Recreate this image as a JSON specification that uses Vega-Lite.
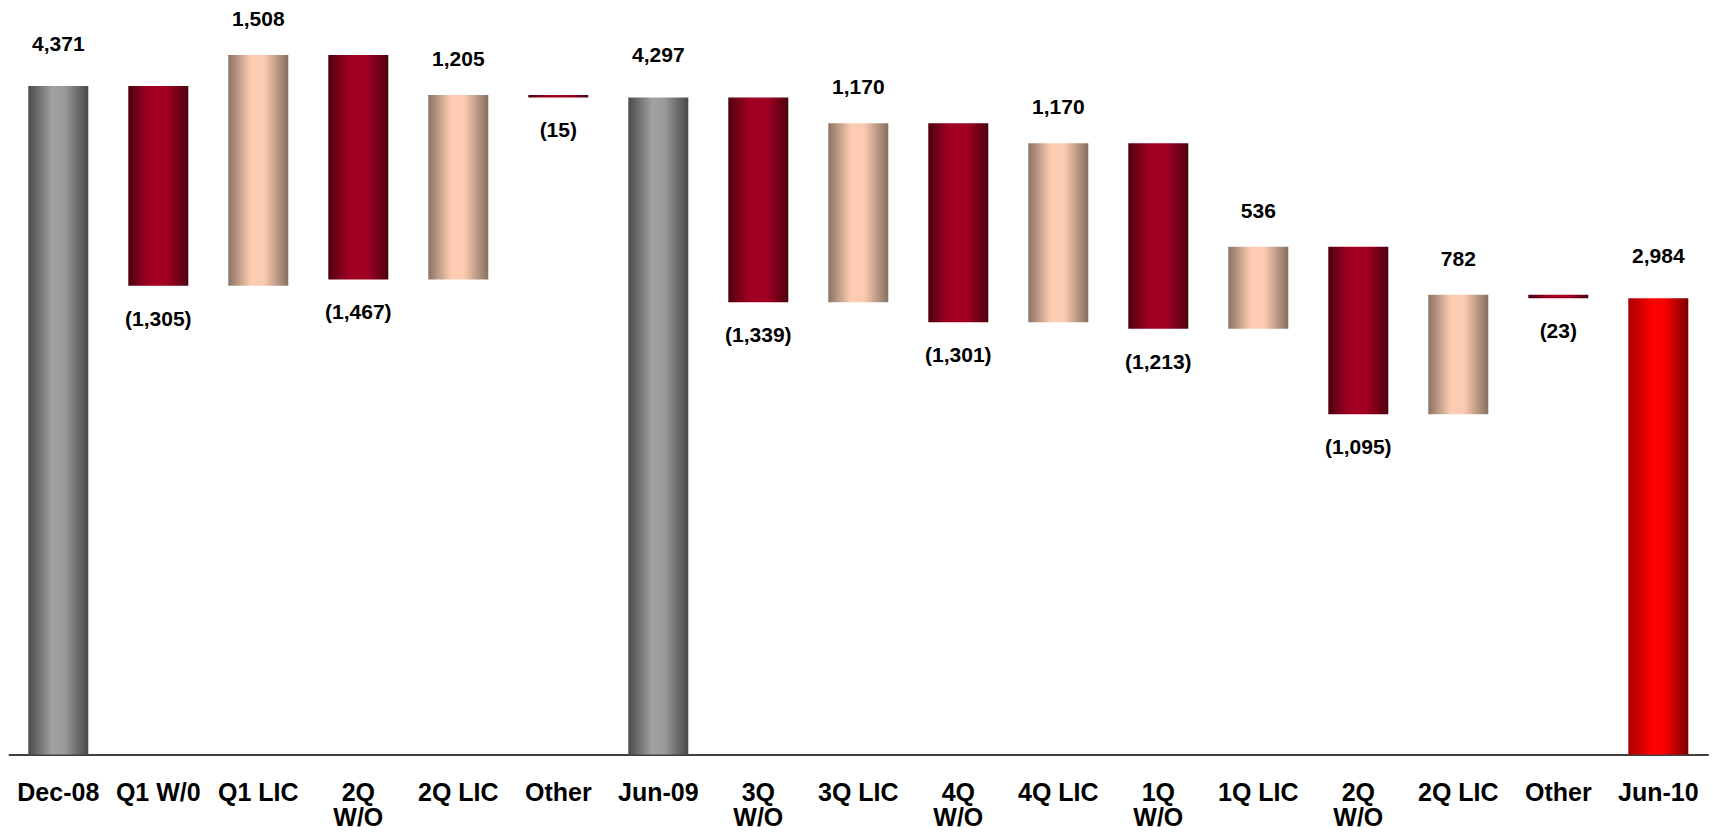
{
  "$schema": "https://vega.github.io/schema/vega-lite/v6.json",
  "width": 1700,
  "height": 734,
  "autosize": "none",
  "padding": {"left": 8.3, "top": 20.5, "right": 4.7, "bottom": 83.5},
  "background": "white",
  "config": {"view": {"stroke": null}},
  "data": {"values": [
    {"k": "01|Dec-08", "type": "total", "start": 0, "end": 4371, "text": "4,371"},
    {"k": "02|Q1 W/0", "type": "neg", "start": 4371, "end": 3066, "text": "(1,305)"},
    {"k": "03|Q1 LIC", "type": "pos", "start": 3066, "end": 4574, "text": "1,508"},
    {"k": "04|2Q|W/O", "type": "neg", "start": 4574, "end": 3107, "text": "(1,467)"},
    {"k": "05|2Q LIC", "type": "pos", "start": 3107, "end": 4312, "text": "1,205"},
    {"k": "06|Other", "type": "neg", "start": 4312, "end": 4297, "text": "(15)"},
    {"k": "07|Jun-09", "type": "total", "start": 0, "end": 4297, "text": "4,297"},
    {"k": "08|3Q|W/O", "type": "neg", "start": 4297, "end": 2958, "text": "(1,339)"},
    {"k": "09|3Q LIC", "type": "pos", "start": 2958, "end": 4128, "text": "1,170"},
    {"k": "10|4Q|W/O", "type": "neg", "start": 4128, "end": 2827, "text": "(1,301)"},
    {"k": "11|4Q LIC", "type": "pos", "start": 2827, "end": 3997, "text": "1,170"},
    {"k": "12|1Q|W/O", "type": "neg", "start": 3997, "end": 2784, "text": "(1,213)"},
    {"k": "13|1Q LIC", "type": "pos", "start": 2784, "end": 3320, "text": "536"},
    {"k": "14|2Q|W/O", "type": "neg", "start": 3320, "end": 2225, "text": "(1,095)"},
    {"k": "15|2Q LIC", "type": "pos", "start": 2225, "end": 3007, "text": "782"},
    {"k": "16|Other", "type": "neg", "start": 3007, "end": 2984, "text": "(23)"},
    {"k": "17|Jun-10", "type": "final", "start": 0, "end": 2984, "text": "2,984"}
  ]},
  "encoding": {
    "x": {
      "field": "k", "type": "nominal", "sort": "ascending",
      "scale": {"paddingInner": 0.4, "paddingOuter": 0.2},
      "axis": {
        "title": null,
        "labelExpr": "slice(split(datum.label, '|'), 1)",
        "labelAngle": 0,
        "labelFont": "Liberation Sans",
        "labelFontWeight": "bold",
        "labelFontSize": 25,
        "labelLineHeight": 25,
        "labelColor": "#000000",
        "labelPadding": 26,
        "labelOverlap": false,
        "labelBaseline": "top",
        "ticks": false,
        "tickSize": 0,
        "domainColor": "#000000",
        "domainWidth": 1.6,
        "grid": false
      }
    },
    "y": {
      "field": "start", "type": "quantitative",
      "scale": {"domain": [0, 4800], "nice": false, "zero": true},
      "axis": null
    }
  },
  "layer": [
    {
      "transform": [{"filter": "datum.type === 'total'"}],
      "mark": {"type": "bar", "color": {"gradient": "linear", "x1": 0, "x2": 1, "y1": 0, "y2": 0,
        "stops": [
          {"offset": 0, "color": "#4a4a4a"},
          {"offset": 0.4, "color": "#a2a2a2"},
          {"offset": 0.6, "color": "#9a9a9a"},
          {"offset": 1, "color": "#484848"}
        ]}},
      "encoding": {"y2": {"field": "end"}}
    },
    {
      "transform": [{"filter": "datum.type === 'neg'"}],
      "mark": {"type": "bar", "color": {"gradient": "linear", "x1": 0, "x2": 1, "y1": 0, "y2": 0,
        "stops": [
          {"offset": 0, "color": "#4e0010"},
          {"offset": 0.35, "color": "#a20022"},
          {"offset": 0.65, "color": "#a00021"},
          {"offset": 1, "color": "#4a000f"}
        ]}},
      "encoding": {"y2": {"field": "end"}}
    },
    {
      "transform": [{"filter": "datum.type === 'pos'"}],
      "mark": {"type": "bar", "color": {"gradient": "linear", "x1": 0, "x2": 1, "y1": 0, "y2": 0,
        "stops": [
          {"offset": 0, "color": "#8a7262"},
          {"offset": 0.38, "color": "#fdcdb3"},
          {"offset": 0.6, "color": "#fbcab0"},
          {"offset": 1, "color": "#85705f"}
        ]}},
      "encoding": {"y2": {"field": "end"}}
    },
    {
      "transform": [{"filter": "datum.type === 'final'"}],
      "mark": {"type": "bar", "color": {"gradient": "linear", "x1": 0, "x2": 1, "y1": 0, "y2": 0,
        "stops": [
          {"offset": 0, "color": "#a80000"},
          {"offset": 0.4, "color": "#ff0000"},
          {"offset": 0.6, "color": "#fa0000"},
          {"offset": 1, "color": "#7a0000"}
        ]}},
      "encoding": {"y2": {"field": "end"}}
    },
    {
      "transform": [{"filter": "datum.type === 'total' || datum.type === 'final'"}],
      "mark": {"type": "text", "font": "Liberation Sans", "fontWeight": "bold", "fontSize": 21, "color": "#000000", "baseline": "alphabetic", "dy": -35},
      "encoding": {"y": {"field": "end", "type": "quantitative"}, "text": {"field": "text"}}
    },
    {
      "transform": [{"filter": "datum.type === 'pos'"}],
      "mark": {"type": "text", "font": "Liberation Sans", "fontWeight": "bold", "fontSize": 21, "color": "#000000", "baseline": "alphabetic", "dy": -29},
      "encoding": {"y": {"field": "end", "type": "quantitative"}, "text": {"field": "text"}}
    },
    {
      "transform": [{"filter": "datum.type === 'neg'"}],
      "mark": {"type": "text", "font": "Liberation Sans", "fontWeight": "bold", "fontSize": 21, "color": "#000000", "baseline": "alphabetic", "dy": 40},
      "encoding": {"y": {"field": "end", "type": "quantitative"}, "text": {"field": "text"}}
    }
  ]
}
